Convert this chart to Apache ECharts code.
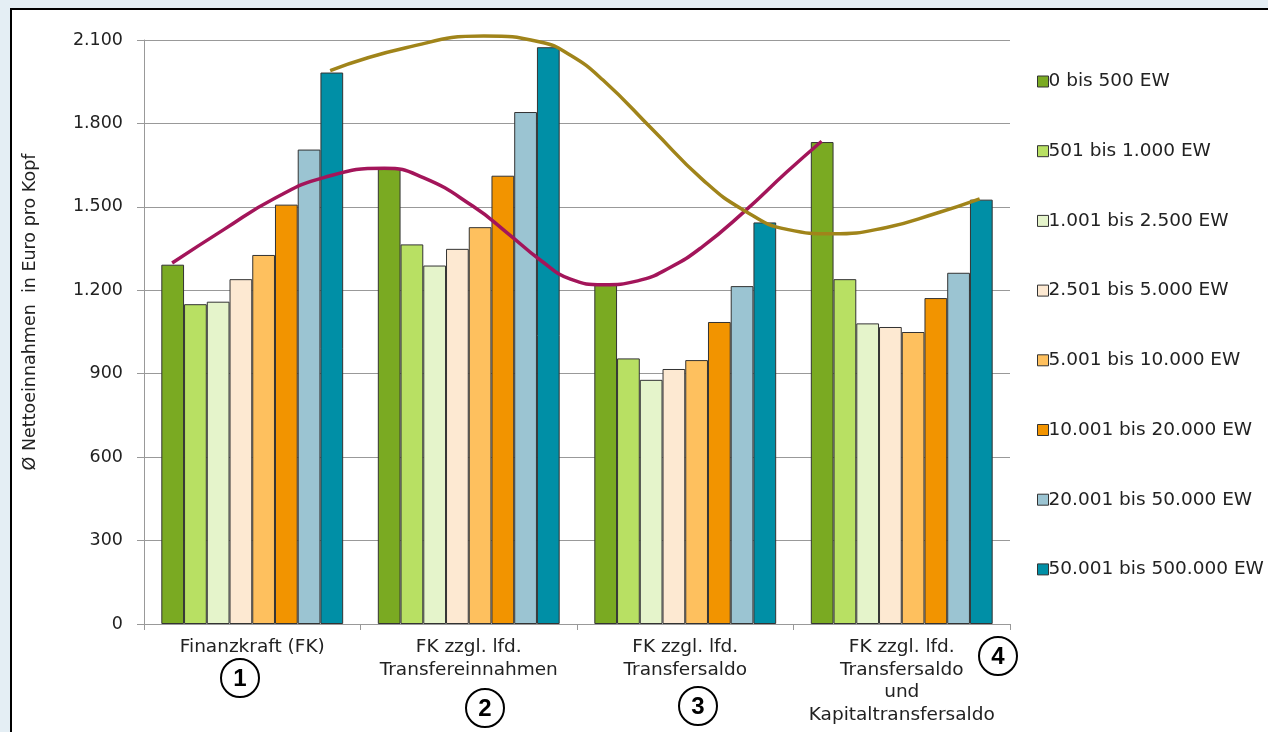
<!DOCTYPE html>
<html>
<head>
<meta charset="utf-8">
<script src="https://cdn.jsdelivr.net/npm/echarts@6/dist/echarts.min.js"></script>
<style>
html,body{margin:0;padding:0;width:1268px;height:732px;overflow:hidden;background:#e4eef4;}
#frame{position:absolute;left:10px;top:8px;width:1300px;height:760px;background:#fff;border-left:2.5px solid #000;border-top:2.5px solid #000;}
#chart{position:absolute;left:0;top:0;width:1268px;height:732px;}
</style>
</head>
<body>
<div id="frame"></div>
<div id="chart"></div>
<script>
const categories = ['Finanzkraft (FK)', 'FK zzgl. lfd.\nTransfereinnahmen', 'FK zzgl. lfd.\nTransfersaldo', 'FK zzgl. lfd.\nTransfersaldo\nund\nKapitaltransfersaldo'];
const seriesNames = ['0 bis 500 EW', '501 bis 1.000 EW', '1.001 bis 2.500 EW', '2.501 bis 5.000 EW', '5.001 bis 10.000 EW', '10.001 bis 20.000 EW', '20.001 bis 50.000 EW', '50.001 bis 500.000 EW'];
const s0_500 = [1292, 1636, 1220, 1733];
const s501_1000 = [1150, 1365, 955, 1240];
const s1001_2500 = [1159, 1289, 878, 1081];
const s2501_5000 = [1240, 1349, 917, 1068];
const s5001_10000 = [1327, 1427, 949, 1050];
const s10001_20000 = [1508, 1612, 1086, 1172];
const s20001_50000 = [1706, 1841, 1215, 1263];
const s50001_500000 = [1983, 2074, 1444, 1526];
const barValues = [s0_500, s501_1000, s1001_2500, s2501_5000, s5001_10000, s10001_20000, s20001_50000, s50001_500000];
const yTicks = [0, 300, 600, 900, 1200, 1500, 1800, 2100];
const yTitle = 'Ø Nettoeinnahmen  in Euro pro Kopf';
// annotation curves: [category position (0..4), value]
const purpleCurve = [[0.13,1298],[0.37,1419],[0.60,1529],[0.83,1605],[1.11,1639],[1.29,1605],[1.52,1502],[1.68,1405],[1.83,1309],[1.97,1240],[2.12,1220],[2.28,1234],[2.43,1282],[2.58,1357],[2.77,1481],[2.97,1626],[3.13,1736]];
const oliveCurve = [[0.86,1990],[1.21,2072],[1.57,2114],[1.83,2093],[1.97,2045],[2.12,1956],[2.35,1777],[2.58,1598],[2.77,1488],[2.97,1419],[3.18,1403],[3.43,1426],[3.66,1477],[3.86,1529]];
const colors = ['#7aaa22', '#b8e063', '#e5f4cb', '#fde9d2', '#fec05e', '#f29400', '#9bc4d2', '#008fa6'];

const chart = echarts.init(document.getElementById('chart'));
const fontFam = '"DejaVu Sans", "Liberation Sans", Arial, sans-serif';
const series = barValues.map((vals, i) => ({
  name: seriesNames[i], type: 'bar', xAxisIndex: 0, yAxisIndex: 0,
  data: vals, barGap: '0%', barCategoryGap: '16%',
  itemStyle: { color: colors[i], borderColor: '#333', borderWidth: 1 },
  emphasis: { disabled: true }
}));
series.push({ type: 'line', xAxisIndex: 1, yAxisIndex: 0, data: purpleCurve, smooth: true, clip: false, showSymbol: false, lineStyle: { color: '#a3155a', width: 3.5 }, z: 10, silent: true });
series.push({ type: 'line', xAxisIndex: 1, yAxisIndex: 0, data: oliveCurve, smooth: true, clip: false, showSymbol: false, lineStyle: { color: '#a0841a', width: 3.5 }, z: 10, silent: true });

function circ(x, y, t) {
  return { type: 'group', left: x - 20, top: y - 20, children: [
    { type: 'circle', shape: { cx: 20, cy: 20, r: 19 }, style: { fill: '#fff', stroke: '#000', lineWidth: 2 } },
    { type: 'text', style: { x: 20, y: 21, text: t, align: 'center', verticalAlign: 'middle', font: 'bold 24px "Liberation Sans", Arial', fill: '#000' } }
  ]};
}

chart.setOption({
  animation: false,
  textStyle: { fontFamily: fontFam },
  grid: { left: 144, right: 258, top: 40, bottom: 108 },
  legend: {
    orient: 'vertical', left: 1032, top: 67, itemWidth: 11, itemHeight: 11, itemGap: 50.7,
    icon: 'rect',
    data: seriesNames,
    textStyle: { fontSize: 18.5, color: '#222', fontFamily: fontFam, padding: [0,0,0,-5] },
    itemStyle: { borderColor: '#333', borderWidth: 1 }
  },
  xAxis: [
    { type: 'category', data: categories,
      axisLine: { lineStyle: { color: '#999' } },
      axisTick: { show: true, alignWithLabel: false, length: 6, lineStyle: { color: '#999' } },
      axisLabel: { fontSize: 18.5, color: '#222', lineHeight: 22.5, margin: 12, interval: 0 } },
    { type: 'value', min: 0, max: 4, show: false }
  ],
  yAxis: [{
    type: 'value', min: 0, max: 2100, interval: 300,
    axisLine: { show: true, lineStyle: { color: '#999' } },
    axisTick: { show: true, length: 7, lineStyle: { color: '#999' } },
    splitLine: { lineStyle: { color: '#999', width: 1 } },
    axisLabel: { fontSize: 17.5, color: '#222', margin: 21,
      formatter: v => yTicks.includes(v) ? v.toLocaleString('de-DE') : '' }
  }],
  graphic: [
    { type: 'text', x: 30, y: 312, rotation: Math.PI / 2, style: { text: yTitle, align: 'center', verticalAlign: 'middle', font: '17.5px "DejaVu Sans", Arial', fill: '#222' } },
    circ(240, 678, '1'), circ(485, 708, '2'), circ(698, 706, '3'), circ(998, 656, '4')
  ],
  series: series
});
</script>
</body>
</html>
